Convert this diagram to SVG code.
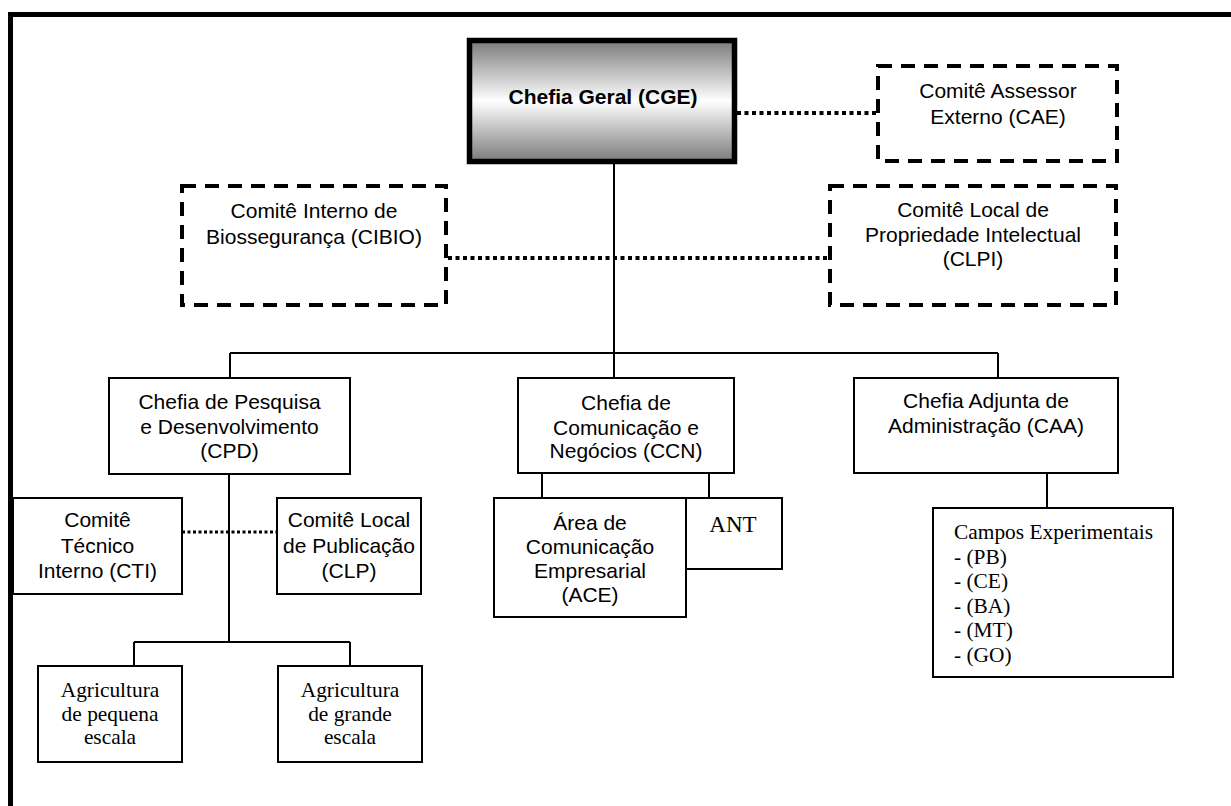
<svg xmlns="http://www.w3.org/2000/svg" width="1231" height="806" viewBox="0 0 1231 806">
<defs>
<linearGradient id="gcge" x1="0" y1="0" x2="0" y2="1">
<stop offset="0" stop-color="#7a7a7a"/>
<stop offset="0.5" stop-color="#ffffff"/>
<stop offset="1" stop-color="#7a7a7a"/>
</linearGradient>
<style>
.box{fill:#fff;stroke:#000;stroke-width:2}
.dash{fill:#fff;stroke:#000;stroke-width:4;stroke-dasharray:14 9}
.line{stroke:#000;stroke-width:2;fill:none}
.dot{stroke:#000;stroke-width:4;stroke-dasharray:4 3.5;fill:none}
.dots{stroke:#000;stroke-width:3;stroke-dasharray:3 2.5;fill:none}
.a{font-family:"Liberation Sans",Arial,sans-serif;font-size:21px;text-anchor:middle;fill:#000}
.t{font-family:"Liberation Serif","Times New Roman",serif;font-size:21.4px;fill:#000}
.tc{text-anchor:middle}
</style>
</defs>
<rect width="1231" height="806" fill="#fff"/>
<path d="M10.5 806 V14.5 H1231" fill="none" stroke="#000" stroke-width="5"/>
<g id="connectors">
<path class="line" d="M614 164 V353 M230 353 H998 M230 353 V378 M614 353 V378 M998 353 V378"/>
<path class="line" d="M542 473 V498 M709 473 V498"/>
<path class="line" d="M1047 473 V508"/>
<path class="line" d="M229 474 V642 M134 642 H350 M134 642 V666 M350 642 V666"/>
<path class="dot" d="M737 113 H876"/>
<path class="dot" d="M448 258 H828"/>
<path class="dots" d="M182 532 H277"/>
</g>
<g id="cge">
<rect x="469.5" y="40.5" width="265" height="121" fill="url(#gcge)" stroke="#000" stroke-width="5.5"/>
<text class="a" x="603" y="104" font-weight="bold">Chefia Geral (CGE)</text>
</g>
<g id="cae">
<rect class="dash" x="878" y="66" width="239" height="95"/>
<text class="a" x="998" y="98">Comitê Assessor</text>
<text class="a" x="998" y="124">Externo (CAE)</text>
</g>
<g id="cibio">
<rect class="dash" x="182" y="186" width="264" height="119"/>
<text class="a" x="314" y="218">Comitê Interno de</text>
<text class="a" x="314" y="244">Biossegurança (CIBIO)</text>
</g>
<g id="clpi">
<rect class="dash" x="830" y="186" width="286" height="119"/>
<text class="a" x="973" y="217">Comitê Local de</text>
<text class="a" x="973" y="242">Propriedade Intelectual</text>
<text class="a" x="973" y="266">(CLPI)</text>
</g>
<g id="cpd">
<rect class="box" x="109" y="378" width="241" height="96"/>
<text class="a" x="229.5" y="409">Chefia de Pesquisa</text>
<text class="a" x="229.5" y="434">e Desenvolvimento</text>
<text class="a" x="229.5" y="458">(CPD)</text>
</g>
<g id="ccn">
<rect class="box" x="518" y="378" width="216" height="95"/>
<text class="a" x="626" y="410">Chefia de</text>
<text class="a" x="626" y="435">Comunicação e</text>
<text class="a" x="626" y="458">Negócios (CCN)</text>
</g>
<g id="caa">
<rect class="box" x="854" y="378" width="264" height="95"/>
<text class="a" x="986" y="408">Chefia Adjunta de</text>
<text class="a" x="986" y="433">Administração (CAA)</text>
</g>
<g id="cti">
<rect class="box" x="13" y="498" width="169" height="96"/>
<text class="a" x="97.5" y="527">Comitê</text>
<text class="a" x="97.5" y="553">Técnico</text>
<text class="a" x="97.5" y="578">Interno (CTI)</text>
</g>
<g id="clp">
<rect class="box" x="277" y="498" width="144" height="96"/>
<text class="a" x="349" y="527">Comitê Local</text>
<text class="a" x="349" y="553">de Publicação</text>
<text class="a" x="349" y="578">(CLP)</text>
</g>
<g id="ace">
<rect class="box" x="494" y="498" width="192" height="119"/>
<text class="a" x="590" y="530">Área de</text>
<text class="a" x="590" y="554">Comunicação</text>
<text class="a" x="590" y="578">Empresarial</text>
<text class="a" x="590" y="602">(ACE)</text>
</g>
<g id="ant">
<rect class="box" x="686" y="498" width="96" height="71"/>
<text class="t tc" x="733" y="532" style="font-size:23px">ANT</text>
</g>
<g id="campos">
<rect class="box" x="933" y="508" width="240" height="169"/>
<text class="t" x="954" y="539">Campos Experimentais</text>
<text class="t" x="954" y="564">- (PB)</text>
<text class="t" x="954" y="588">- (CE)</text>
<text class="t" x="954" y="613">- (BA)</text>
<text class="t" x="954" y="637">- (MT)</text>
<text class="t" x="954" y="662">- (GO)</text>
</g>
<g id="agri-pequena">
<rect class="box" x="38" y="666" width="144" height="96"/>
<text class="t tc" x="110" y="697">Agricultura</text>
<text class="t tc" x="110" y="721">de pequena</text>
<text class="t tc" x="110" y="744">escala</text>
</g>
<g id="agri-grande">
<rect class="box" x="278" y="666" width="144" height="96"/>
<text class="t tc" x="350" y="697">Agricultura</text>
<text class="t tc" x="350" y="721">de grande</text>
<text class="t tc" x="350" y="744">escala</text>
</g>
</svg>
